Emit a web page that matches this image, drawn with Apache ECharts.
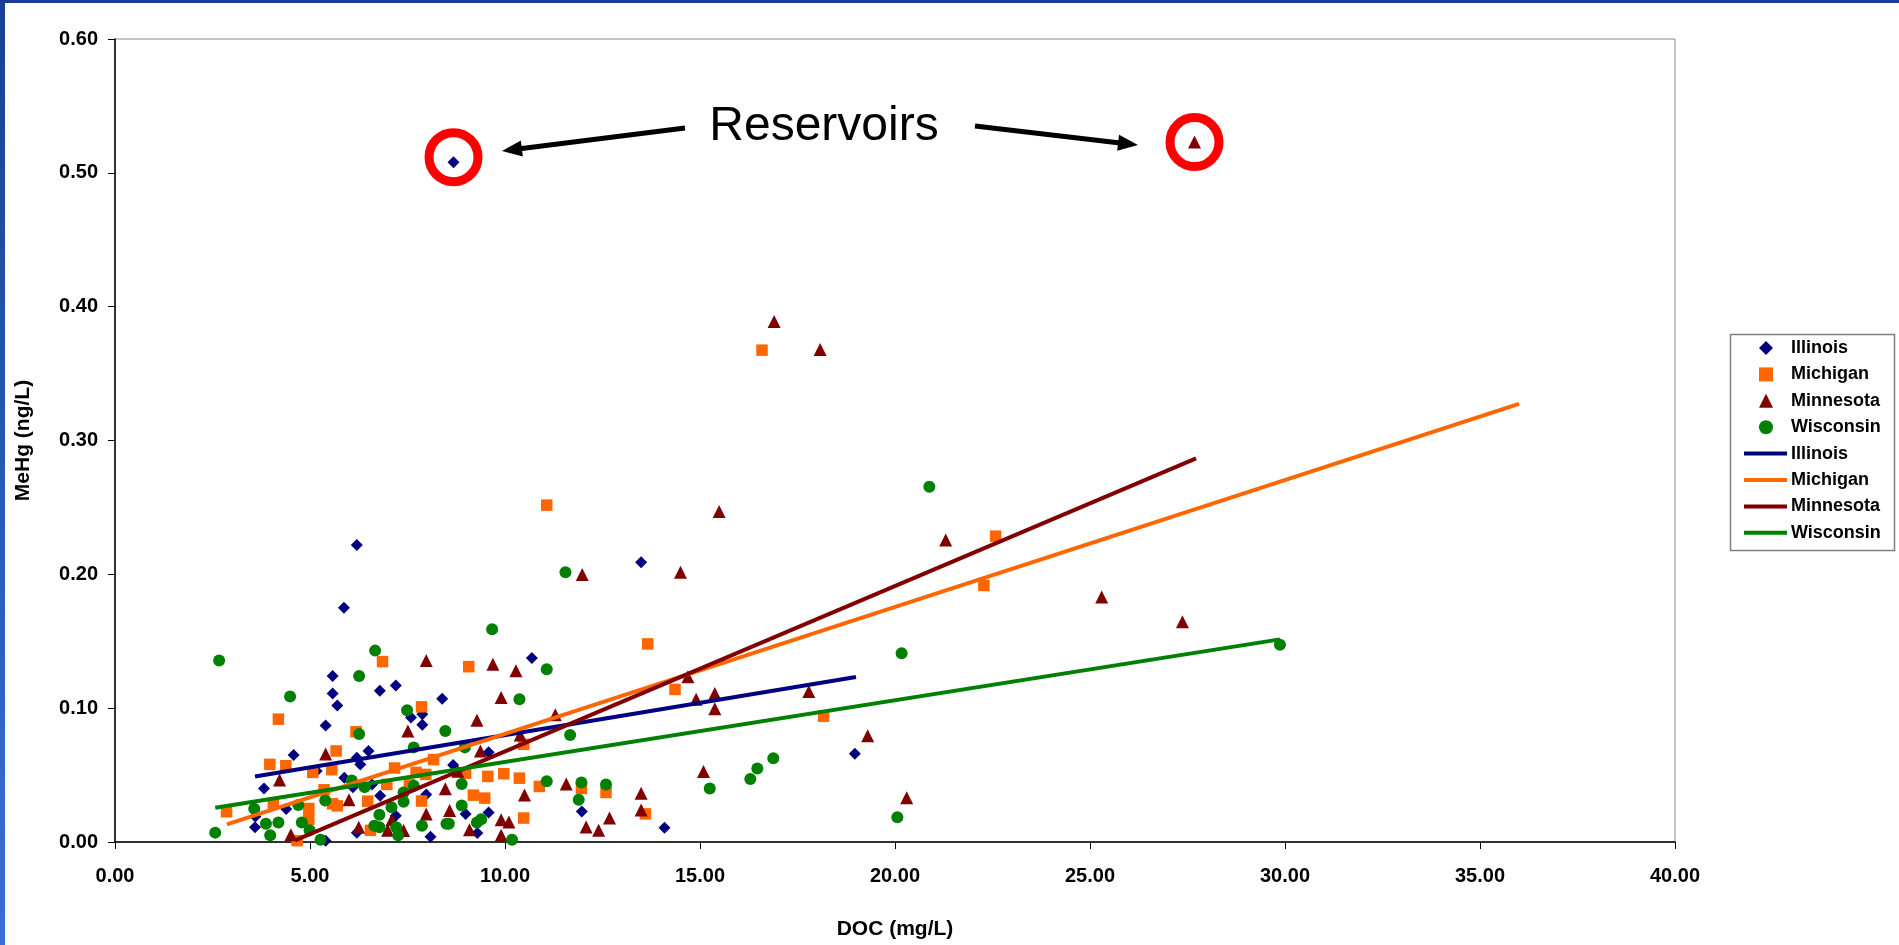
<!DOCTYPE html>
<html><head><meta charset="utf-8">
<script src="https://cdn.jsdelivr.net/npm/echarts@6/dist/echarts.min.js"></script>
<style>html,body{margin:0;padding:0;background:#fff;overflow:hidden}#c{width:1899px;height:945px}</style>
</head><body><div id="c"></div>
<script>
// ---- data (DOC mg/L, MeHg ng/L) ----
const illinois = [
 [8.68,0.508],[6.2,0.222],[5.87,0.175],[5.58,0.124],[5.58,0.111],[5.70,0.102],[6.79,0.113],[7.2,0.117],
 [8.39,0.107],[5.40,0.087],[7.59,0.093],[7.88,0.0955],[7.88,0.0876],[4.58,0.065],[6.5,0.068],[6.2,0.063],
 [6.29,0.058],[3.82,0.040],[5.17,0.053],[5.88,0.048],[6.1,0.041],[6.59,0.043],[6.8,0.0345],[7.98,0.0355],
 [4.39,0.0246],[3.59,0.011],[3.6,0.019],[6.2,0.007],[7.2,0.0196],[8.09,0.004],[5.4,0.001],[8.67,0.0576],
 [9.58,0.067],[8.99,0.021],[9.58,0.022],[9.29,0.0067],[11.97,0.0228],[14.09,0.0107],[13.49,0.209],
 [10.69,0.1375],[18.97,0.066]
];
const michigan = [
 [6.86,0.1348],[4.19,0.0918],[7.86,0.101],[6.18,0.0824],[5.67,0.068],[3.97,0.058],[4.38,0.057],[5.07,0.052],
 [5.56,0.054],[7.17,0.0553],[8.17,0.0616],[7.72,0.052],[7.97,0.0505],[6.97,0.043],[7.55,0.043],[5.36,0.039],
 [6.48,0.0305],[7.86,0.0306],[4.06,0.029],[5.58,0.0285],[5.7,0.027],[2.86,0.0226],[4.97,0.025],[4.97,0.017],
 [6.55,0.0087],[4.67,0.001],[9.07,0.131],[13.66,0.148],[14.36,0.114],[10.48,0.073],[8.99,0.0514],[9.56,0.049],
 [9.97,0.051],[10.37,0.0477],[10.88,0.0415],[11.96,0.040],[12.59,0.037],[9.19,0.035],[9.48,0.0328],
 [10.48,0.0179],[13.6,0.021],[11.07,0.2517],[16.59,0.3675],[22.58,0.2285],[22.28,0.1917],[18.17,0.094]
];
const minnesota = [
 [27.68,0.523],[16.9,0.389],[18.08,0.368],[15.49,0.247],[21.3,0.2256],[25.3,0.183],[27.37,0.1646],[14.5,0.2015],
 [11.98,0.1998],[15.38,0.111],[15.38,0.0996],[17.79,0.1125],[19.3,0.0794],[15.09,0.0526],[20.3,0.033],
 [14.69,0.1234],[14.9,0.1067],[7.98,0.1357],[7.51,0.083],[5.4,0.0658],[4.22,0.0464],[6.0,0.0315],[7.98,0.021],
 [8.47,0.0397],[4.51,0.0055],[6.25,0.011],[6.99,0.0087],[7.1,0.0167],[7.4,0.0085],[9.69,0.1328],[10.28,0.128],
 [9.9,0.108],[9.28,0.091],[11.29,0.095],[10.39,0.080],[9.37,0.068],[8.79,0.0529],[8.58,0.0236],[9.09,0.0092],
 [9.9,0.0166],[10.1,0.015],[9.9,0.005],[10.5,0.0352],[11.57,0.0434],[12.08,0.0112],[12.4,0.0087],[12.68,0.0179],
 [13.49,0.0365],[13.49,0.024]
];
const wisconsin = [
 [2.67,0.1357],[6.67,0.143],[6.26,0.124],[4.49,0.1087],[7.49,0.0985],[6.26,0.0807],[8.47,0.083],[7.66,0.0707],
 [6.07,0.046],[6.4,0.041],[7.66,0.042],[5.39,0.031],[7.4,0.037],[7.4,0.030],[7.09,0.026],[4.7,0.0276],
 [3.57,0.0248],[6.78,0.0203],[3.87,0.0137],[4.19,0.0145],[4.79,0.0145],[2.57,0.007],[3.98,0.005],[4.99,0.0087],
 [5.27,0.0017],[6.65,0.0122],[6.78,0.011],[7.21,0.011],[7.26,0.005],[7.87,0.0122],[8.5,0.0137],[9.67,0.159],
 [11.07,0.129],[10.37,0.1067],[11.67,0.080],[8.97,0.0707],[8.89,0.0434],[11.07,0.0454],[11.96,0.0444],
 [12.59,0.043],[11.89,0.0315],[8.89,0.0273],[8.56,0.0137],[9.28,0.0145],[9.39,0.017],[10.18,0.0017],
 [15.25,0.040],[16.29,0.047],[16.47,0.055],[16.88,0.0626],[20.06,0.0185],[20.17,0.141],[20.88,0.2655],
 [11.55,0.2015],[29.87,0.1474]
];
// linear trendlines (end points)
const illinoisTrend  = [[3.59,0.049],[19.0,0.1233]];
const michiganTrend  = [[2.87,0.0132],[36.0,0.3274]];
const minnesotaTrend = [[4.62,0.0012],[27.72,0.2867]];
const wisconsinTrend = [[2.57,0.0256],[29.87,0.1514]];
// tick labels
const xTickLabels = ['0.00','5.00','10.00','15.00','20.00','25.00','30.00','35.00','40.00'];
const yTickLabels = ['0.00','0.10','0.20','0.30','0.40','0.50','0.60'];
const stateNames = ['Illinois','Michigan','Minnesota','Wisconsin'];

const FONT = '"Liberation Sans", Arial, sans-serif';
const colors = ['#000080','#FF6600','#800000','#008000'];
const symbols = ['diamond','rect','triangle','circle'];
const sizes = [12,11.5,13,12];
const pts = [illinois, michigan, minnesota, wisconsin];
const trends = [illinoisTrend, michiganTrend, minnesotaTrend, wisconsinTrend];

const series = [];
pts.forEach((d,i)=>series.push({
  name: stateNames[i], type:'scatter', data:d, symbol:symbols[i], symbolSize:sizes[i],
  itemStyle:{color:colors[i], opacity:1}, z:2
}));
trends.forEach((d,i)=>series.push({
  name: stateNames[i]+' ', type:'line', data:d, symbol:'none', showSymbol:false,
  lineStyle:{color:colors[i], width:4}, itemStyle:{color:colors[i]}, z:3
}));
series.push({
  name:'res', type:'scatter', z:4, silent:true,
  data:[{value:illinois[0], symbolOffset:[0,-5]},{value:minnesota[0]}],
  symbol:'circle', symbolSize:49,
  itemStyle:{color:'rgba(0,0,0,0)', borderColor:'#FF0000', borderWidth:9, opacity:1}
});

const legendText = {fontFamily:FONT, fontWeight:'bold', fontSize:18, lineHeight:18, color:'#000'};
const chart = echarts.init(document.getElementById('c'));
chart.setOption({
  animation:false,
  backgroundColor:'#ffffff',
  grid:{left:115, right:224, top:39, bottom:100, show:true, borderColor:'#888888', borderWidth:1, backgroundColor:'transparent'},
  xAxis:{
    type:'value', min:0, max:40, interval:5,
    name:'DOC (mg/L)', nameLocation:'middle', nameGap:77,
    nameTextStyle:{fontFamily:FONT, fontWeight:'bold', fontSize:21, color:'#000'},
    axisLine:{show:true, onZero:false, lineStyle:{color:'#000', width:1.5}},
    axisTick:{show:true, length:7, lineStyle:{color:'#000'}},
    axisLabel:{margin:24, fontFamily:FONT, fontWeight:'bold', fontSize:20, color:'#000',
      formatter:v=>xTickLabels[Math.round(v/5)]},
    splitLine:{show:false}
  },
  yAxis:{
    type:'value', min:0, max:0.6, interval:0.1,
    name:'MeHg (ng/L)', nameLocation:'middle', nameGap:81,
    nameTextStyle:{fontFamily:FONT, fontWeight:'bold', fontSize:21, color:'#000'},
    axisLine:{show:true, onZero:false, lineStyle:{color:'#000', width:1.5}},
    axisTick:{show:true, length:7, lineStyle:{color:'#000'}},
    axisLabel:{margin:17, fontFamily:FONT, fontWeight:'bold', fontSize:20, color:'#000',
      formatter:v=>yTickLabels[Math.round(v*10)]},
    splitLine:{show:false}
  },
  legend:[{
    orient:'vertical', left:1759, top:339, padding:0,
    data: stateNames,
    itemWidth:14, itemHeight:14, itemGap:8.4,
    selectedMode:false,
    textStyle:Object.assign({padding:[0,0,0,13]}, legendText)
  },{
    orient:'vertical', left:1744, top:444.6, padding:0,
    data: stateNames.map(n=>({name:n+' ', icon:'rect'})),
    itemWidth:43, itemHeight:4, itemGap:8.4,
    selectedMode:false,
    textStyle:Object.assign({padding:[0,0,0,-1]}, legendText)
  }],
  series: series
});

// annotations
function arrow(x1,y1,x2,y2){
  const dx=x2-x1, dy=y2-y1, L=Math.hypot(dx,dy), ux=dx/L, uy=dy/L, nx=-uy, ny=ux;
  const hl=20, hw=8;
  const bx=x2-ux*hl, by=y2-uy*hl;
  return [
    {type:'line', shape:{x1:x1,y1:y1,x2:bx+ux*2,y2:by+uy*2}, style:{stroke:'#000', lineWidth:5}, z:10},
    {type:'polygon', shape:{points:[[x2,y2],[bx+nx*hw,by+ny*hw],[bx-nx*hw,by-ny*hw]]}, style:{fill:'#000'}, z:10}
  ];
}
const g = [
  {type:'rect', shape:{x:0,y:0,width:5,height:945},
   style:{fill:new echarts.graphic.LinearGradient(0,0,0,1,[{offset:0,color:'#1b3f96'},{offset:1,color:'#3a6fd8'}])}, z:20},
  {type:'rect', shape:{x:0,y:0,width:1899,height:3}, style:{fill:'#1b3f96'}, z:20},
  {type:'rect', shape:{x:1730.5,y:334.5,width:164,height:216}, style:{fill:'none', stroke:'#808080', lineWidth:1.5}, z:10},
  {type:'text', x:824, y:127, style:{text:'Reservoirs', fontFamily:FONT, fontSize:48, fill:'#000', align:'center', verticalAlign:'middle'}, z:10}
].concat(arrow(685,128,502,151)).concat(arrow(975,126,1138,145));
chart.setOption({graphic:g});
</script></body></html>
